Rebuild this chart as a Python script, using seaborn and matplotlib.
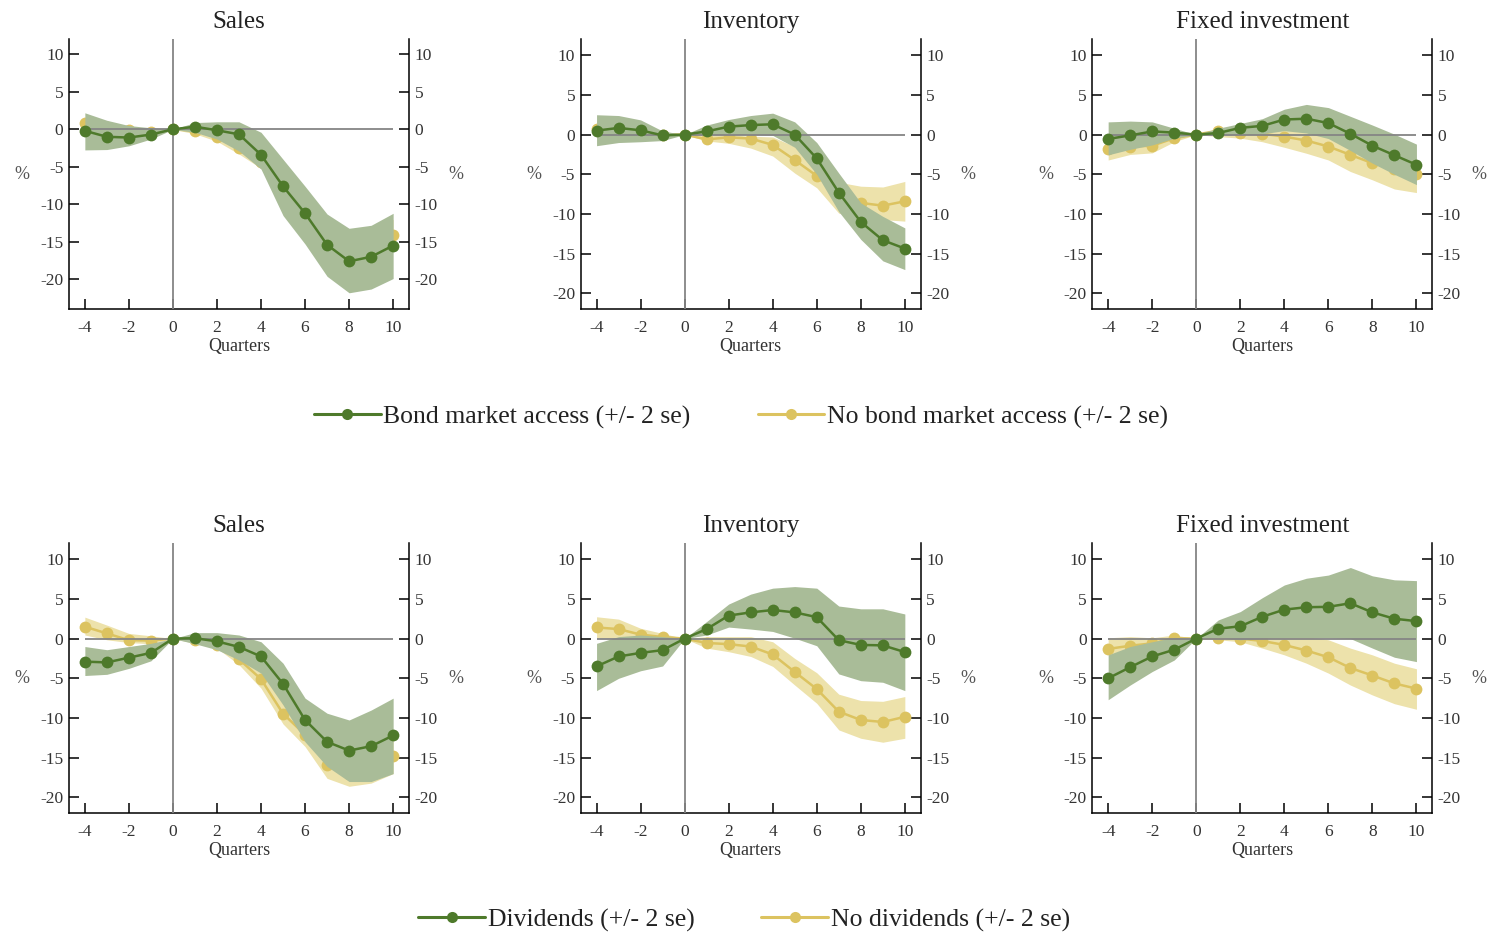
import matplotlib
matplotlib.use("Agg")
import matplotlib.pyplot as plt
from matplotlib.lines import Line2D
import numpy as np
import seaborn as sns

# quarters relative to the shock
quarters = [-4, -3, -2, -1, 0, 1, 2, 3, 4, 5, 6, 7, 8, 9, 10]
titles = ["Sales", "Inventory", "Fixed investment"]
y_ticks = [10, 5, 0, -5, -10, -15, -20]
x_ticks = [-4, -2, 0, 2, 4, 6, 8, 10]

# ---- top row: bond market access vs no access ----
sales_bond = [-0.2, -1.0, -1.1, -0.7, 0, 0.35, -0.13, -0.67, -3.4, -7.6, -11.2, -15.4, -17.6, -17.0, -15.5]
sales_bond_hi = [2.2, 1.2, 0.5, 0.2, 0, 0.9, 1.0, 1.0, -0.4, -4.0, -7.6, -11.3, -13.2, -12.8, -11.2]
sales_bond_lo = [-2.75, -2.7, -2.2, -1.3, 0, -0.4, -1.3, -2.9, -5.3, -11.5, -15.3, -19.6, -21.8, -21.3, -19.9]
sales_nobond = [0.9, 0.3, -0.1, -0.3, 0, -0.2, -1.0, -2.5, -4.3, -8.0, -11.5, -15.0, -16.5, -16.0, -14.1]
sales_nobond_hi = [1.5, 0.9, 0.3, 0.0, 0, 0.2, -0.4, -1.6, -3.2, -6.5, -10.0, -13.5, -14.5, -14.0, -12.0]
sales_nobond_lo = [0.2, -0.3, -0.5, -0.6, 0, -0.6, -1.6, -3.3, -5.2, -9.6, -13.0, -16.6, -18.5, -18.0, -16.2]

inv_bond = [0.5, 0.84, 0.54, -0.1, 0, 0.4, 1.0, 1.2, 1.3, 0.0, -3.0, -7.3, -11.0, -13.3, -14.35]
inv_bond_hi = [2.5, 2.4, 1.85, 0.45, 0, 1.2, 1.9, 2.4, 2.7, 1.6, -1.0, -4.85, -8.6, -10.3, -11.75]
inv_bond_lo = [-1.4, -1.0, -0.9, -0.75, 0, 0.0, 0.0, 0.0, -0.1, -1.6, -5.0, -9.7, -13.2, -15.9, -17.0]
inv_nobond = [0.7, 0.5, 0.3, 0.0, 0, -0.6, -0.35, -0.5, -1.3, -3.2, -5.2, -7.5, -8.6, -8.95, -8.4]
inv_nobond_hi = [1.8, 1.4, 1.0, 0.4, 0, 0.0, 0.0, -0.2, -0.3, -1.5, -3.0, -6.0, -6.5, -6.6, -5.9]
inv_nobond_lo = [-0.5, -0.4, -0.4, -0.3, 0, -0.8, -1.1, -1.7, -2.7, -4.85, -6.7, -9.9, -10.4, -10.7, -10.9]

fix_bond = [-0.55, -0.1, 0.4, 0.25, 0, 0.2, 0.85, 1.1, 1.9, 2.0, 1.45, 0.1, -1.4, -2.6, -3.8]
fix_bond_hi = [1.6, 1.7, 1.6, 0.8, 0, 0.8, 1.4, 2.0, 3.2, 3.8, 3.4, 2.3, 1.2, 0.05, -1.2]
fix_bond_lo = [-2.55, -1.85, -1.3, -0.45, 0, -0.15, 0.0, 0.1, 0.5, 0.2, -0.5, -2.0, -3.6, -5.0, -6.3]
fix_nobond = [-1.8, -1.5, -1.4, -0.45, 0, 0.5, 0.15, 0.1, -0.25, -0.75, -1.5, -2.55, -3.6, -4.3, -5.0]
fix_nobond_hi = [-0.6, -0.6, -0.5, 0.0, 0, 0.7, 0.8, 0.9, 0.8, 0.5, 0.0, -0.9, -2.0, -3.2, -3.6]
fix_nobond_lo = [-3.2, -2.5, -2.3, -0.9, 0, -0.25, -0.45, -0.9, -1.6, -2.35, -3.2, -4.65, -5.7, -6.85, -7.3]

# ---- bottom row: dividends vs no dividends ----
sales_div = [-2.9, -3.0, -2.4, -1.8, 0, 0.05, -0.35, -1.05, -2.25, -5.7, -10.25, -13.0, -14.1, -13.55, -12.2]
sales_div_hi = [-1.0, -1.4, -1.0, -0.6, 0, 0.75, 0.75, 0.45, -0.4, -3.1, -7.5, -9.4, -10.25, -9.0, -7.5]
sales_div_lo = [-4.65, -4.5, -3.75, -2.8, 0, -0.65, -1.4, -2.7, -4.35, -8.35, -13.0, -16.1, -18.0, -18.0, -17.0]
sales_nodiv = [1.5, 0.65, -0.2, -0.25, 0, -0.2, -0.8, -2.6, -5.1, -9.45, -12.1, -15.9, -17.0, -16.8, -14.8]
sales_nodiv_hi = [2.7, 1.7, 0.65, 0.35, 0, 0.2, -0.2, -1.5, -4.0, -8.0, -11.0, -14.0, -15.5, -15.5, -12.5]
sales_nodiv_lo = [0.45, -0.15, -0.5, -0.65, 0, -0.6, -1.2, -3.3, -6.25, -10.75, -13.6, -17.6, -18.6, -18.2, -17.0]

inv_div = [-3.5, -2.25, -1.8, -1.45, 0, 1.2, 2.9, 3.3, 3.6, 3.3, 2.7, -0.2, -0.8, -0.85, -1.7]
inv_div_hi = [-0.6, 0.25, 0.45, 0.25, 0, 2.15, 4.35, 5.6, 6.35, 6.55, 6.35, 4.1, 3.75, 3.75, 3.1]
inv_div_lo = [-6.55, -5.0, -4.05, -3.45, 0, 0.45, 1.45, 1.2, 0.9, 0.05, -0.9, -4.45, -5.3, -5.5, -6.55]
inv_nodiv = [1.4, 1.2, 0.5, 0.2, 0, -0.55, -0.7, -1.0, -2.0, -4.2, -6.35, -9.2, -10.25, -10.5, -9.85]
inv_nodiv_hi = [2.75, 2.45, 1.3, 0.65, 0, 0.25, 0.25, 0.25, -0.4, -2.5, -4.3, -7.0, -7.8, -7.9, -7.3]
inv_nodiv_lo = [0.1, 0.0, -0.2, -0.2, 0, -1.2, -1.65, -2.25, -3.5, -5.85, -8.15, -11.5, -12.55, -13.05, -12.55]

fix_div = [-5.0, -3.6, -2.25, -1.4, 0, 1.25, 1.55, 2.75, 3.65, 3.95, 4.0, 4.45, 3.3, 2.5, 2.2]
fix_div_hi = [-2.05, -1.0, -0.4, 0.15, 0, 2.35, 3.4, 5.15, 6.75, 7.6, 8.0, 8.95, 7.9, 7.4, 7.3]
fix_div_lo = [-7.7, -5.85, -4.15, -2.7, 0, 0.15, -0.15, 0.05, 0.1, 0.1, 0.1, 0.0, -1.2, -2.35, -2.9]
fix_nodiv = [-1.3, -0.9, -0.6, 0.05, 0, 0.1, 0.0, -0.3, -0.8, -1.5, -2.35, -3.7, -4.65, -5.65, -6.3]
fix_nodiv_hi = [0.1, 0.25, 0.1, 0.45, 0, 0.45, 0.4, 0.35, 0.4, 0.25, -0.15, -1.2, -2.05, -3.1, -3.8]
fix_nodiv_lo = [-2.05, -1.85, -1.3, -0.4, 0, -0.15, -0.4, -1.2, -2.05, -3.1, -4.35, -5.85, -7.1, -8.2, -8.9]

legend_top = ["Bond market access (+/- 2 se)", "No bond market access (+/- 2 se)"]
legend_bottom = ["Dividends (+/- 2 se)", "No dividends (+/- 2 se)"]

GREEN = "#4e7a2b"
GREEN_BAND = "#a9bc98"
YELLOW = "#dcc360"
YELLOW_BAND = "#ede2ab"
REF = "#858585"

sns.set_theme(style="ticks")
plt.rcParams["font.family"] = ["Liberation Serif", "DejaVu Serif"]

rows = [
    [(sales_bond, sales_bond_lo, sales_bond_hi, sales_nobond, sales_nobond_lo, sales_nobond_hi),
     (inv_bond, inv_bond_lo, inv_bond_hi, inv_nobond, inv_nobond_lo, inv_nobond_hi),
     (fix_bond, fix_bond_lo, fix_bond_hi, fix_nobond, fix_nobond_lo, fix_nobond_hi)],
    [(sales_div, sales_div_lo, sales_div_hi, sales_nodiv, sales_nodiv_lo, sales_nodiv_hi),
     (inv_div, inv_div_lo, inv_div_hi, inv_nodiv, inv_nodiv_lo, inv_nodiv_hi),
     (fix_div, fix_div_lo, fix_div_hi, fix_nodiv, fix_nodiv_lo, fix_nodiv_hi)],
]
ylims = [[(-24, 12), (-22, 12), (-22, 12)],
         [(-22, 12), (-22, 12), (-22, 12)]]

W, H = 1491, 938
fig = plt.figure(figsize=(W / 100, H / 100), dpi=100)
col_left = [69, 580.7, 1092.3]
row_top = [39.3, 543.3]
aw, ah = 340, 270

for r in range(2):
    for c in range(3):
        g, g_lo, g_hi, y, y_lo, y_hi = rows[r][c]
        ax = fig.add_axes([col_left[c] / W, 1 - (row_top[r] + ah) / H, aw / W, ah / H])

        ax.fill_between(quarters, y_lo, y_hi, color=YELLOW_BAND, lw=0, zorder=1)
        sns.lineplot(x=quarters, y=y, ax=ax, color=YELLOW, marker="o", markersize=8.5,
                     markeredgewidth=0, linewidth=1.8, zorder=2)
        ax.fill_between(quarters, g_lo, g_hi, color=GREEN_BAND, lw=0, zorder=3)
        ax.hlines(0, quarters[0], quarters[-1], color=REF, lw=1.3, zorder=4)
        ax.axvline(0, color=REF, lw=1.3, zorder=4)
        sns.lineplot(x=quarters, y=g, ax=ax, color=GREEN, marker="o", markersize=8.5,
                     markeredgewidth=0, linewidth=1.8, zorder=5)

        ax.set_xlim(-4.72, 10.72)
        ax.set_ylim(*ylims[r][c])
        ax.set_xticks(x_ticks)
        ax.set_yticks(y_ticks)
        ax.set_xticklabels([str(v) for v in x_ticks])
        ax.set_yticklabels([str(v) for v in y_ticks])
        ax.tick_params(axis="both", direction="in", length=7, width=1.1, colors="black",
                       labelcolor="#333333", labelsize=12.5, pad=4)
        ax.tick_params(axis="x", pad=8)
        ax.tick_params(axis="y", left=True, right=True, labelleft=True, labelright=True)
        for side in ["left", "right", "bottom"]:
            ax.spines[side].set_visible(True)
            ax.spines[side].set_linewidth(1.1)
            ax.spines[side].set_color("black")
        ax.spines["top"].set_visible(False)

        ax.set_title(titles[c], fontsize=18, color="#222222", pad=8)
        ax.set_xlabel("Quarters", fontsize=13, color="#333333", labelpad=1)
        ax.set_ylabel("")
        ax.text(-0.138, 0.5, "%", transform=ax.transAxes, ha="center", va="center",
                fontsize=13, color="#555555")
        ax.text(1.138, 0.5, "%", transform=ax.transAxes, ha="center", va="center",
                fontsize=13, color="#555555")


def legend_handles():
    return [Line2D([], [], color=GREEN, lw=2.2, marker="o", markersize=8, markeredgewidth=0),
            Line2D([], [], color=YELLOW, lw=2.2, marker="o", markersize=8, markeredgewidth=0)]


for labels, (cx, cy) in [(legend_top, (741, 417)), (legend_bottom, (744, 920))]:
    fig.legend(legend_handles(), labels, loc="center", bbox_to_anchor=(cx / W, 1 - cy / H),
               ncol=2, frameon=False, fontsize=18.5, handlelength=2.6, handletextpad=0.1,
               columnspacing=2.6, labelcolor="#222222")

fig.savefig("out.png", dpi=100, facecolor="white")
